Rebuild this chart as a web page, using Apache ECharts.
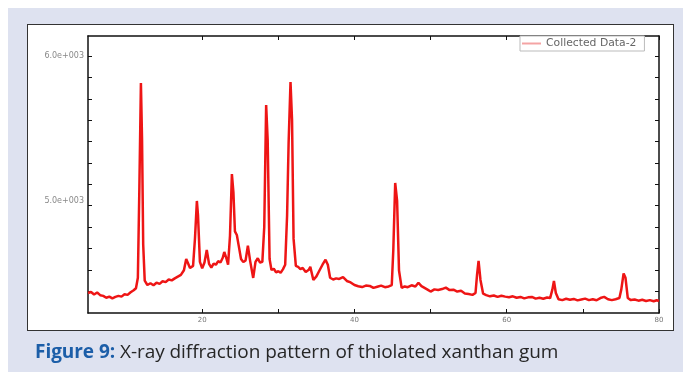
<!DOCTYPE html>
<html>
<head>
<meta charset="utf-8">
<script src="https://cdn.jsdelivr.net/npm/echarts@6/dist/echarts.min.js"></script>
<style>
html,body{margin:0;padding:0;background:#fff;}
#wrap{position:absolute;left:8px;top:8px;width:675px;height:364px;background:#dee2f0;}
#box{position:absolute;left:27px;top:24px;width:645px;height:305px;background:#fff;border:1px solid #333;}
#chart{position:absolute;left:0;top:0;width:683px;height:372px;}
#cap{position:absolute;left:35px;top:338px;font-family:"Open Sans",sans-serif;font-size:19px;color:#262626;white-space:nowrap;letter-spacing:-0.05px;}
#cap b{color:#1c5ea8;font-weight:700;}
</style>
</head>
<body>
<div id="wrap"></div>
<div id="box"></div>
<div id="chart"></div>
<div id="cap"><b>Figure 9:</b> X-ray diffraction pattern of thiolated xanthan gum</div>
<script>
// 2θ (degrees)
const twoTheta = [5.0,5.4,5.8,6.2,6.6,7.0,7.4,7.8,8.2,8.6,9.0,9.4,9.8,10.2,10.6,11.0,11.3,11.55,11.75,11.95,12.1,12.25,12.45,12.8,13.2,13.6,14.0,14.4,14.8,15.2,15.6,16.0,16.4,16.8,17.2,17.6,17.9,18.1,18.4,18.8,19.05,19.3,19.45,19.7,20.0,20.3,20.6,20.9,21.2,21.5,21.8,22.1,22.4,22.7,22.9,23.2,23.4,23.65,23.9,24.1,24.3,24.55,24.8,25.1,25.4,25.7,26.0,26.3,26.7,27.0,27.3,27.6,27.9,28.15,28.4,28.6,28.85,29.1,29.4,29.7,30.0,30.3,30.6,30.9,31.15,31.35,31.6,31.8,32.0,32.3,32.6,32.9,33.2,33.6,34.0,34.2,34.6,35.0,35.4,35.8,36.2,36.5,36.8,37.2,37.6,38.0,38.5,39.0,39.5,40.0,40.5,41.0,41.5,42.0,42.5,43.0,43.5,44.0,44.5,44.9,45.1,45.35,45.6,45.85,46.2,46.6,47.0,47.5,48.0,48.4,48.8,49.2,49.6,50.0,50.5,51.0,51.5,52.0,52.5,53.0,53.5,54.0,54.5,55.0,55.5,55.9,56.1,56.3,56.55,56.9,57.3,57.8,58.3,58.8,59.3,59.8,60.3,60.8,61.3,61.8,62.3,62.8,63.3,63.8,64.3,64.8,65.3,65.7,66.0,66.2,66.45,66.8,67.3,67.8,68.3,68.8,69.3,69.8,70.3,70.8,71.3,71.8,72.3,72.8,73.3,73.8,74.3,74.8,75.05,75.35,75.6,75.9,76.3,76.8,77.3,77.8,78.3,78.8,79.3,79.7,80.0];
// intensity (counts)
const intensity = [4365,4372,4355,4368,4350,4345,4332,4340,4328,4338,4345,4340,4356,4352,4370,4384,4398,4470,5100,5814,5420,4700,4450,4420,4432,4418,4436,4428,4446,4440,4458,4452,4466,4478,4490,4522,4600,4590,4538,4552,4740,5000,4900,4580,4535,4575,4662,4566,4540,4568,4560,4585,4575,4608,4648,4600,4560,4760,5186,5060,4790,4765,4690,4600,4578,4590,4692,4585,4469,4580,4605,4575,4580,4820,5662,5420,4600,4524,4532,4508,4515,4505,4528,4560,4900,5400,5821,5560,4740,4552,4545,4530,4538,4510,4525,4545,4455,4480,4520,4560,4595,4560,4470,4458,4466,4462,4475,4448,4438,4420,4412,4406,4416,4414,4400,4408,4416,4405,4410,4420,4660,5124,5000,4520,4400,4410,4405,4418,4410,4436,4412,4400,4388,4375,4390,4386,4392,4402,4385,4388,4375,4380,4362,4358,4352,4365,4490,4586,4455,4360,4350,4342,4348,4338,4346,4340,4336,4342,4332,4338,4328,4335,4338,4326,4332,4325,4334,4330,4390,4448,4365,4322,4316,4325,4318,4324,4314,4320,4326,4316,4322,4315,4330,4338,4322,4316,4322,4330,4390,4500,4470,4330,4316,4320,4312,4318,4310,4316,4308,4315,4310];
const xLabelValues = [20,40,60,80];
const xTickValues = [20,30,40,50,60,70,80];
const yLabelValues = [5000,6000];
const yLabelText = {5000:'5.0e+003',6000:'6.0e+003'};
const yTickValues = [6000,5852,5705,5557,5410,5262,5114,4967,4819,4672,4524,4376];
const seriesName = 'Collected Data-2';

const chart = echarts.init(document.getElementById('chart'), null, {renderer:'canvas'});
const pts = twoTheta.map((t,i)=>[t,intensity[i]]);
const axisLine = {show:true, lineStyle:{color:'#111', width:1.5}};
chart.setOption({
  animation:false,
  backgroundColor:'transparent',
  grid:{left:88, top:36, right:24, bottom:59},
  legend:{
    show:true, left:520, top:36,
    data:[{name:seriesName, itemStyle:{color:'#f4a4a4'}, lineStyle:{color:'#f4a4a4', width:2}}],
    icon:'rect', itemWidth:19, itemHeight:2, itemGap:4,
    padding:[2,8,2,2], borderColor:'#bbb', borderWidth:1, backgroundColor:'#fff',
    textStyle:{fontFamily:'DejaVu Sans', fontSize:10.8, color:'#666'}
  },
  xAxis:[{
    type:'value', min:5, max:80, position:'bottom',
    axisLine:axisLine, splitLine:{show:false},
    axisTick:{show:true, inside:true, length:4, customValues:xTickValues, lineStyle:{color:'#111'}},
    axisLabel:{customValues:xLabelValues, fontSize:7, color:'#777', margin:4, fontFamily:'DejaVu Sans'}
  },{
    type:'value', min:5, max:80, position:'top',
    axisLine:axisLine, splitLine:{show:false},
    axisTick:{show:true, inside:true, length:4, customValues:xTickValues, lineStyle:{color:'#111'}},
    axisLabel:{show:false}
  }],
  yAxis:[{
    type:'value', min:4227, max:6138, position:'left',
    axisLine:axisLine, splitLine:{show:false},
    axisTick:{show:true, inside:true, length:4, customValues:yTickValues, lineStyle:{color:'#111'}},
    axisLabel:{customValues:yLabelValues, formatter:v=>yLabelText[v]||'', fontSize:8, color:'#888', margin:4, fontFamily:'DejaVu Sans'}
  },{
    type:'value', min:4227, max:6138, position:'right',
    axisLine:axisLine, splitLine:{show:false},
    axisTick:{show:true, inside:true, length:4, customValues:yTickValues, lineStyle:{color:'#111'}},
    axisLabel:{show:false}
  }],
  series:[{
    name:seriesName, type:'line', data:pts, xAxisIndex:0, yAxisIndex:0,
    showSymbol:false, symbol:'none',
    lineStyle:{color:'#ee1515', width:2.5},
    itemStyle:{color:'#ee1515'}
  }]
});
</script>
</body>
</html>
